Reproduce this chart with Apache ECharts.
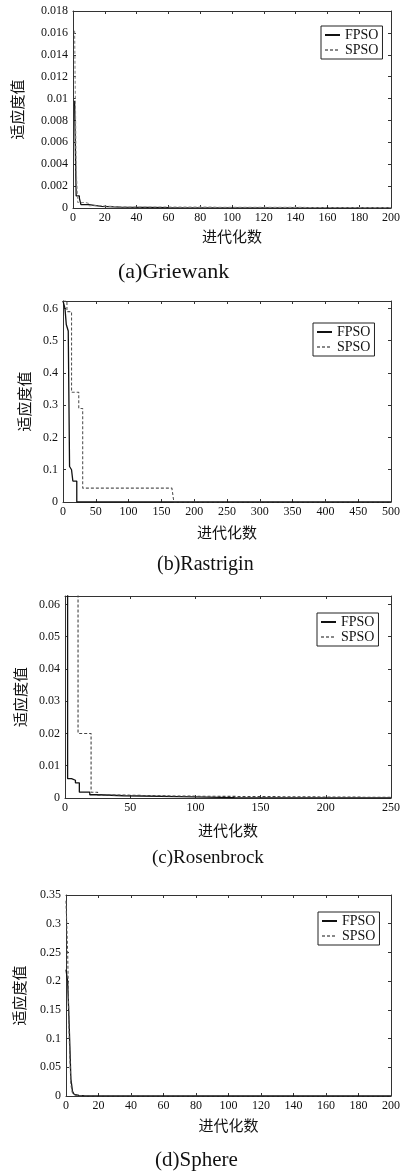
<!DOCTYPE html>
<html style="height: 100%">
<head>
<meta charset="utf-8">
<script src="https://cdn.jsdelivr.net/npm/echarts@6/dist/echarts.min.js"></script>
</head>
<body style="height: 100%; margin: 0; background: #fff">
<div id="container" style="width: 403px; height: 1171px"></div>
<script type="text/javascript">
// (a) Griewank
var griewankFpsoX = [1, 2, 4, 5, 10, 18, 30, 60, 200];
var griewankFpsoY = [0.0098, 0.0011, 0.0009, 0.0003, 0.00015, 0.00008, 0.00003, 0.00001, 0];
var griewankSpsoX = [1, 2, 3, 8, 10, 18, 30, 200];
var griewankSpsoY = [0.0162, 0.0035, 0.0005, 0.0004, 0.0002, 0.0001, 0.00003, 0];
// (b) Rastrigin
var rastriginFpsoX = [0, 3, 5, 8, 10, 13, 15, 21, 500];
var rastriginFpsoY = [0.623, 0.6, 0.55, 0.53, 0.11, 0.1, 0.065, 0, 0];
var rastriginSpsoX = [0, 6, 13, 24, 30, 166, 169, 500];
var rastriginSpsoY = [0.623, 0.59, 0.34, 0.29, 0.043, 0.04, 0, 0];
// (c) Rosenbrock
var rosenFpsoX = [0, 2, 5, 8, 11, 19, 26, 45, 87, 130, 250];
var rosenFpsoY = [0.15, 0.006, 0.0055, 0.0047, 0.0018, 0.001, 0.0007, 0.0004, 0.0001, 0.00005, 0];
var rosenSpsoX = [0, 10, 20, 25, 45, 85, 250];
var rosenSpsoY = [0.2, 0.02, 0.0018, 0.0009, 0.0006, 0.0002, 0];
// (d) Sphere
var sphereFpsoX = [0, 1, 2, 3, 4, 5, 8, 12, 20, 200];
var sphereFpsoY = [0.22, 0.2, 0.12, 0.03, 0.008, 0.003, 0.001, 0.0003, 0.0001, 0];
var sphereSpsoX = [0, 1, 2, 3, 4, 6, 10, 200];
var sphereSpsoY = [0.34, 0.25, 0.1, 0.02, 0.005, 0.001, 0.0002, 0];

var captions = ['(a)Griewank', '(b)Rastrigin', '(c)Rosenbrock', '(d)Sphere'];
var xMax = [200, 500, 250, 200];
var xStep = [20, 50, 50, 20];
var yMax = [0.018, 0.623, 0.0626, 0.35];
var yStep = [0.002, 0.1, 0.01, 0.05];
var seriesNames = ['FPSO', 'SPSO'];
var yName = '适应度值';
var xName = '进代化数';

var panelData = [
  [[griewankFpsoX, griewankFpsoY], [griewankSpsoX, griewankSpsoY]],
  [[rastriginFpsoX, rastriginFpsoY], [rastriginSpsoX, rastriginSpsoY]],
  [[rosenFpsoX, rosenFpsoY], [rosenSpsoX, rosenSpsoY]],
  [[sphereFpsoX, sphereFpsoY], [sphereSpsoX, sphereSpsoY]]
];

// layout of each panel (pixels)
var grids = [
  {left: 73, right: 4, top: 11, height: 197},
  {left: 63, right: 6, top: 301, height: 201},
  {left: 65, right: 7, top: 596, height: 202},
  {left: 66, right: 9, top: 895, height: 201}
];
var yNameGap = [48, 31, 33, 39];
var xNameGap = [21, 23, 25, 22];
var legendPos = [[321, 26], [313, 323], [317, 613], [318, 912]];
var captionPos = [[118, 261, 22], [157, 555, 20], [152, 849, 19], [155, 1150, 21]];
var stepped = [true, true, true, false];
var spsoColor = ['#888', '#555', '#444', '#555'];

var serif = 'Liberation Serif';
var cjk = 'Noto Sans CJK SC';
var axisColor = '#333';

var dom = document.getElementById('container');
var myChart = echarts.init(dom);

var xAxes = [], yAxes = [], series = [], titles = [], legends = [];

for (var p = 0; p < 4; p++) {
  var tick = {show: true, inside: true, length: 3, lineStyle: {color: axisColor}};
  var line = {show: true, onZero: false, lineStyle: {color: axisColor, width: 1}};
  // bottom x axis
  xAxes.push({
    type: 'value', gridIndex: p, position: 'bottom',
    min: 0, max: xMax[p], interval: xStep[p],
    axisLine: line, axisTick: tick, splitLine: {show: false},
    axisLabel: {fontFamily: serif, fontSize: 12, color: '#111', margin: 4},
    name: xName, nameLocation: 'middle', nameGap: xNameGap[p],
    nameTextStyle: {fontFamily: cjk, fontSize: 15, color: '#111'}
  });
  // top x axis, ticks only
  xAxes.push({
    type: 'value', gridIndex: p, position: 'top',
    min: 0, max: xMax[p], interval: xStep[p],
    axisLine: line, axisTick: tick, splitLine: {show: false},
    axisLabel: {show: false}
  });
  // left y axis
  yAxes.push({
    type: 'value', gridIndex: p, position: 'left',
    min: 0, max: yMax[p], interval: yStep[p],
    axisLine: line, axisTick: tick, splitLine: {show: false},
    axisLabel: {fontFamily: serif, fontSize: 12, color: '#111', margin: 5,
      showMaxLabel: p === 0 || p === 3},
    name: yName, nameLocation: 'middle', nameGap: yNameGap[p],
    nameTextStyle: {fontFamily: cjk, fontSize: 15, color: '#111'}
  });
  // right y axis, ticks only
  yAxes.push({
    type: 'value', gridIndex: p, position: 'right',
    min: 0, max: yMax[p], interval: yStep[p],
    axisLine: line, axisTick: tick, splitLine: {show: false},
    axisLabel: {show: false}
  });

  for (var s = 0; s < 2; s++) {
    var xs = panelData[p][s][0], ys = panelData[p][s][1];
    var c = s === 0 ? '#111' : spsoColor[p];
    series.push({
      name: seriesNames[s],
      type: 'line',
      xAxisIndex: p * 2, yAxisIndex: p * 2,
      data: xs.map(function (x, i) { return [x, ys[i]]; }),
      step: stepped[p] ? 'end' : false,
      symbol: 'none',
      clip: true,
      lineStyle: s === 0
        ? {color: c, width: 1.3, type: 'solid'}
        : {color: c, width: 1.1, type: [3, 2]},
      itemStyle: {color: c},
      animation: false
    });
  }

  titles.push({
    text: captions[p],
    left: captionPos[p][0], top: captionPos[p][1], padding: 0,
    textStyle: {fontFamily: serif, fontSize: captionPos[p][2], fontWeight: 'normal', color: '#111'}
  });

  legends.push({
    data: seriesNames,
    orient: 'vertical',
    left: legendPos[p][0], top: legendPos[p][1],
    itemWidth: 15, itemHeight: 10, itemGap: 1, itemTextGap: 4,
    padding: [2, 4, 2, 3],
    borderColor: '#222', borderWidth: 1, backgroundColor: '#fff',
    selectedMode: false,
    itemStyle: {opacity: 0, borderWidth: 0},
    textStyle: {fontFamily: serif, fontSize: 14, color: '#111', lineHeight: 13}
  });
}

var option = {
  backgroundColor: '#fff',
  animation: false,
  title: titles,
  legend: legends,
  grid: grids,
  xAxis: xAxes,
  yAxis: yAxes,
  series: series
};
myChart.setOption(option);
</script>
</body>
</html>
